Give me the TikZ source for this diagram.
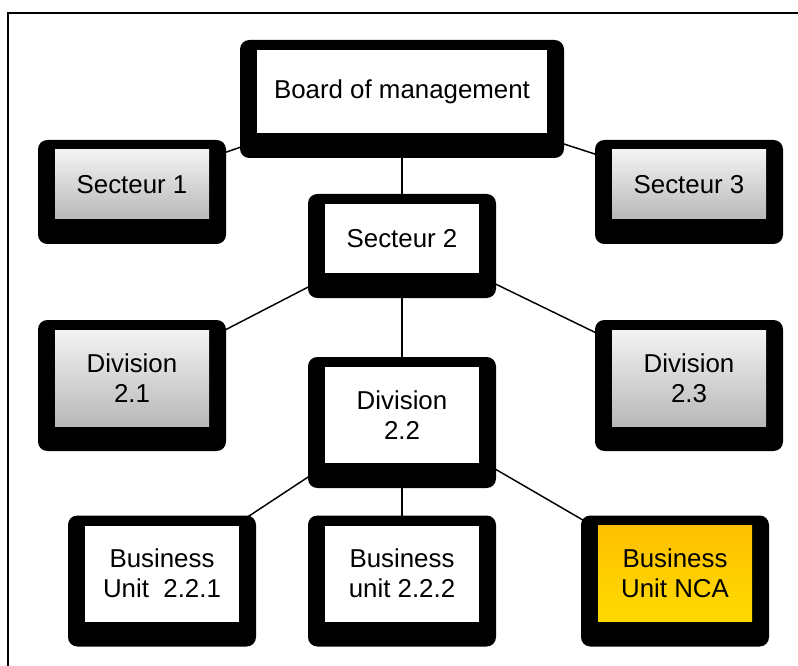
\documentclass[tikz,border=0pt]{standalone}
\usepackage{fontspec}
\setmainfont{Liberation Sans}
\usetikzlibrary{backgrounds}
\definecolor{greytop}{HTML}{F3F3F3}
\definecolor{greybot}{HTML}{B8B8B8}
\definecolor{ncatop}{HTML}{FFC000}
\definecolor{ncabot}{HTML}{FFDA00}
\begin{document}
\begin{tikzpicture}[x=0.75pt, y=-0.75pt,
  every node/.style={font=\fontsize{19.4}{22.5}\selectfont, inner sep=0pt, outer sep=0pt, align=center},
  unit/.style={minimum width=115.5pt, minimum height=51.75pt, fill=white},
  tall/.style={unit, minimum height=72pt},
  grey/.style={top color=greytop, bottom color=greybot},
  nca/.style={top color=ncatop, bottom color=ncabot},
  link/.style={line width=1.1pt}]
  \useasboundingbox (0,0) rectangle (798,666);
  \draw[line width=1.2pt] (8,13) rectangle (810,680);
  % boxes (inner part)
  \node[unit, minimum width=217.5pt, minimum height=62.25pt] (board) at (402,91.5) {Board of management};
  \node[unit, grey] (sec1) at (132,184.5) {Secteur 1};
  \node[unit] (sec2) at (402,238.5) {Secteur 2};
  \node[unit, grey] (sec3) at (689,184.5) {Secteur 3};
  \node[tall, grey] (div1) at (132,378) {Division\\2.1};
  \node[tall] (div2) at (402,415) {Division\\2.2};
  \node[tall, grey] (div3) at (689,378) {Division\\2.3};
  \node[tall] (bu1) at (162,573.5) {Business\\Unit\ \ 2.2.1};
  \node[tall] (bu2) at (402,573.5) {Business\\unit 2.2.2};
  \node[tall, nca] (bunca) at (675,573.5) {Business\\Unit NCA};
  \begin{pgfonlayer}{background}
    \draw[link] (board) -- (sec1);
    \draw[link] (board) -- (sec2);
    \draw[link] (board) -- (sec3);
    \draw[link] (sec2) -- (div1);
    \draw[link] (sec2) -- (div2);
    \draw[link] (sec2) -- (div3);
    \draw[link] (div2) -- (bu1);
    \draw[link] (div2) -- (bu2);
    \draw[link] (div2) -- (bunca);
    % black frame with shadow
    \foreach \n in {board,sec1,sec2,sec3,div1,div2,div3,bu1,bu2,bunca}
      \fill[black, rounded corners=7pt] ([shift={(-17,-10)}]\n.north west) rectangle ([shift={(17,25)}]\n.south east);
  \end{pgfonlayer}
\end{tikzpicture}
\end{document}
